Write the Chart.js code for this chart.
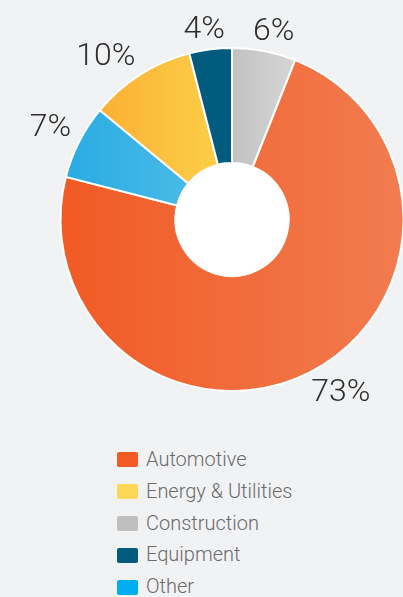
<!DOCTYPE html>
<html>
<head>
<meta charset="utf-8">
<script src="https://cdn.jsdelivr.net/npm/chart.js@4"></script>
<style>
    html, body { margin: 0; padding: 0; width: 403px; height: 597px; overflow: hidden; background: #f1f2f4; }
    #wrap { position: absolute; left: 0; top: 0; width: 464px; height: 440px; }
    #legend { position: absolute; left: 117px; top: 444px; margin: 0; padding: 0; list-style: none;
              font-family: "Helvetica Neue", Roboto, "Liberation Sans", sans-serif; font-weight: 300;
              font-size: 20px; color: #6b6b6b; }
    #legend li { height: 31.8px; line-height: 31.8px; display: flex; align-items: center; }
    #legend span.box { display: inline-block; width: 21px; height: 15px; border-radius: 2px; margin-right: 8px; }
</style>
</head>
<body>
<div id="wrap"><canvas id="chartSectores"></canvas></div>
<ul id="legend"></ul>
<script>
// clockwise from 12 o'clock
const categories = ["Construction", "Automotive", "Other", "Energy & Utilities", "Equipment"];
const values = [6, 73, 7, 10, 4];
const legendOrder = ["Automotive", "Energy & Utilities", "Construction", "Equipment", "Other"];

// left -> right gradient colours per slice, and the flat legend colour
const gradLeft = ["#c2c2c2", "#f15a24", "#29abe2", "#fbb034", "#005b7f"];
const gradRight = ["#d6d6d6", "#f27c50", "#48bae7", "#fcce48", "#005b7f"];
const legendColors = ["#bfbfbf", "#f15a22", "#00aeef", "#fcd856", "#035a7d"];

const CUTOUT = 0.33;

// x extent of a slice, from its angles
function sliceGradient(context) {
    const chart = context.chart;
    const i = context.dataIndex;
    const area = chart.chartArea;
    if (!area || i === undefined) return gradLeft[i || 0];
    const cx = (area.left + area.right) / 2;
    const r = Math.min(area.right - area.left, area.bottom - area.top) / 2;
    const total = values.reduce((a, b) => a + b, 0);
    let before = 0;
    for (let k = 0; k < i; k++) before += values[k];
    const a0 = -Math.PI / 2 + 2 * Math.PI * before / total;
    const a1 = a0 + 2 * Math.PI * values[i] / total;
    const xs = [];
    [a0, a1].forEach(a => { xs.push(Math.cos(a) * r, Math.cos(a) * r * CUTOUT); });
    for (let m = -2; m <= 4; m++) {
        const a = m * Math.PI;
        if (a > a0 && a < a1) xs.push(Math.cos(a) * r);
    }
    const x0 = cx + Math.min(...xs), x1 = cx + Math.max(...xs);
    const g = chart.ctx.createLinearGradient(x0, 0, x1, 0);
    g.addColorStop(0, gradLeft[i]);
    g.addColorStop(1, gradRight[i]);
    return g;
}

// white hole + outside percentage labels
const pctLabels = {
    id: "pctLabels",
    beforeDatasetsDraw(chart) {
        const arc = chart.getDatasetMeta(0).data[0];
        if (!arc) return;
        const ctx = chart.ctx;
        ctx.save();
        ctx.fillStyle = "#ffffff";
        ctx.beginPath();
        ctx.arc(arc.x, arc.y, arc.innerRadius, 0, Math.PI * 2);
        ctx.fill();
        ctx.restore();
    },
    afterDatasetsDraw(chart) {
        const ctx = chart.ctx;
        ctx.save();
        ctx.font = "300 32px 'Helvetica Neue', Roboto, 'Liberation Sans', sans-serif";
        ctx.fillStyle = "#2e2e2e";
        ctx.textAlign = "center";
        ctx.textBaseline = "middle";
        const h = 23;
        chart.getDatasetMeta(0).data.forEach((el, i) => {
            const mid = (el.startAngle + el.endAngle) / 2;
            const s = Math.cos(mid), c = -Math.sin(mid);
            const R = el.outerRadius + 9;
            const ax = el.x + R * s, ay = el.y - R * c;
            const txt = values[i] + "%";
            const w = ctx.measureText(txt).width;
            const fx = Math.max(-1, Math.min(1, 2 * s));
            const fy = Math.max(-1, Math.min(1, 2 * c));
            ctx.fillText(txt, ax + fx * w / 2, ay - fy * h / 2 + 1);
        });
        ctx.restore();
    }
};

new Chart(document.getElementById("chartSectores"), {
    type: "doughnut",
    data: {
        labels: categories,
        datasets: [{
            data: values,
            backgroundColor: sliceGradient,
            borderColor: "#ffffff",
            borderWidth: 2,
            hoverOffset: 0
        }]
    },
    options: {
        responsive: true,
        maintainAspectRatio: false,
        animation: false,
        cutout: (CUTOUT * 100) + "%",
        layout: { padding: { top: 47, bottom: 48, left: 0, right: 0 } },
        plugins: {
            legend: { display: false },
            tooltip: { enabled: false }
        }
    },
    plugins: [pctLabels]
});

const legend = document.getElementById("legend");
legendOrder.forEach(name => {
    const i = categories.indexOf(name);
    const li = document.createElement("li");
    li.innerHTML = '<span class="box" style="background:' + legendColors[i] + '"></span>' + name;
    legend.appendChild(li);
});
</script>
</body>
</html>
